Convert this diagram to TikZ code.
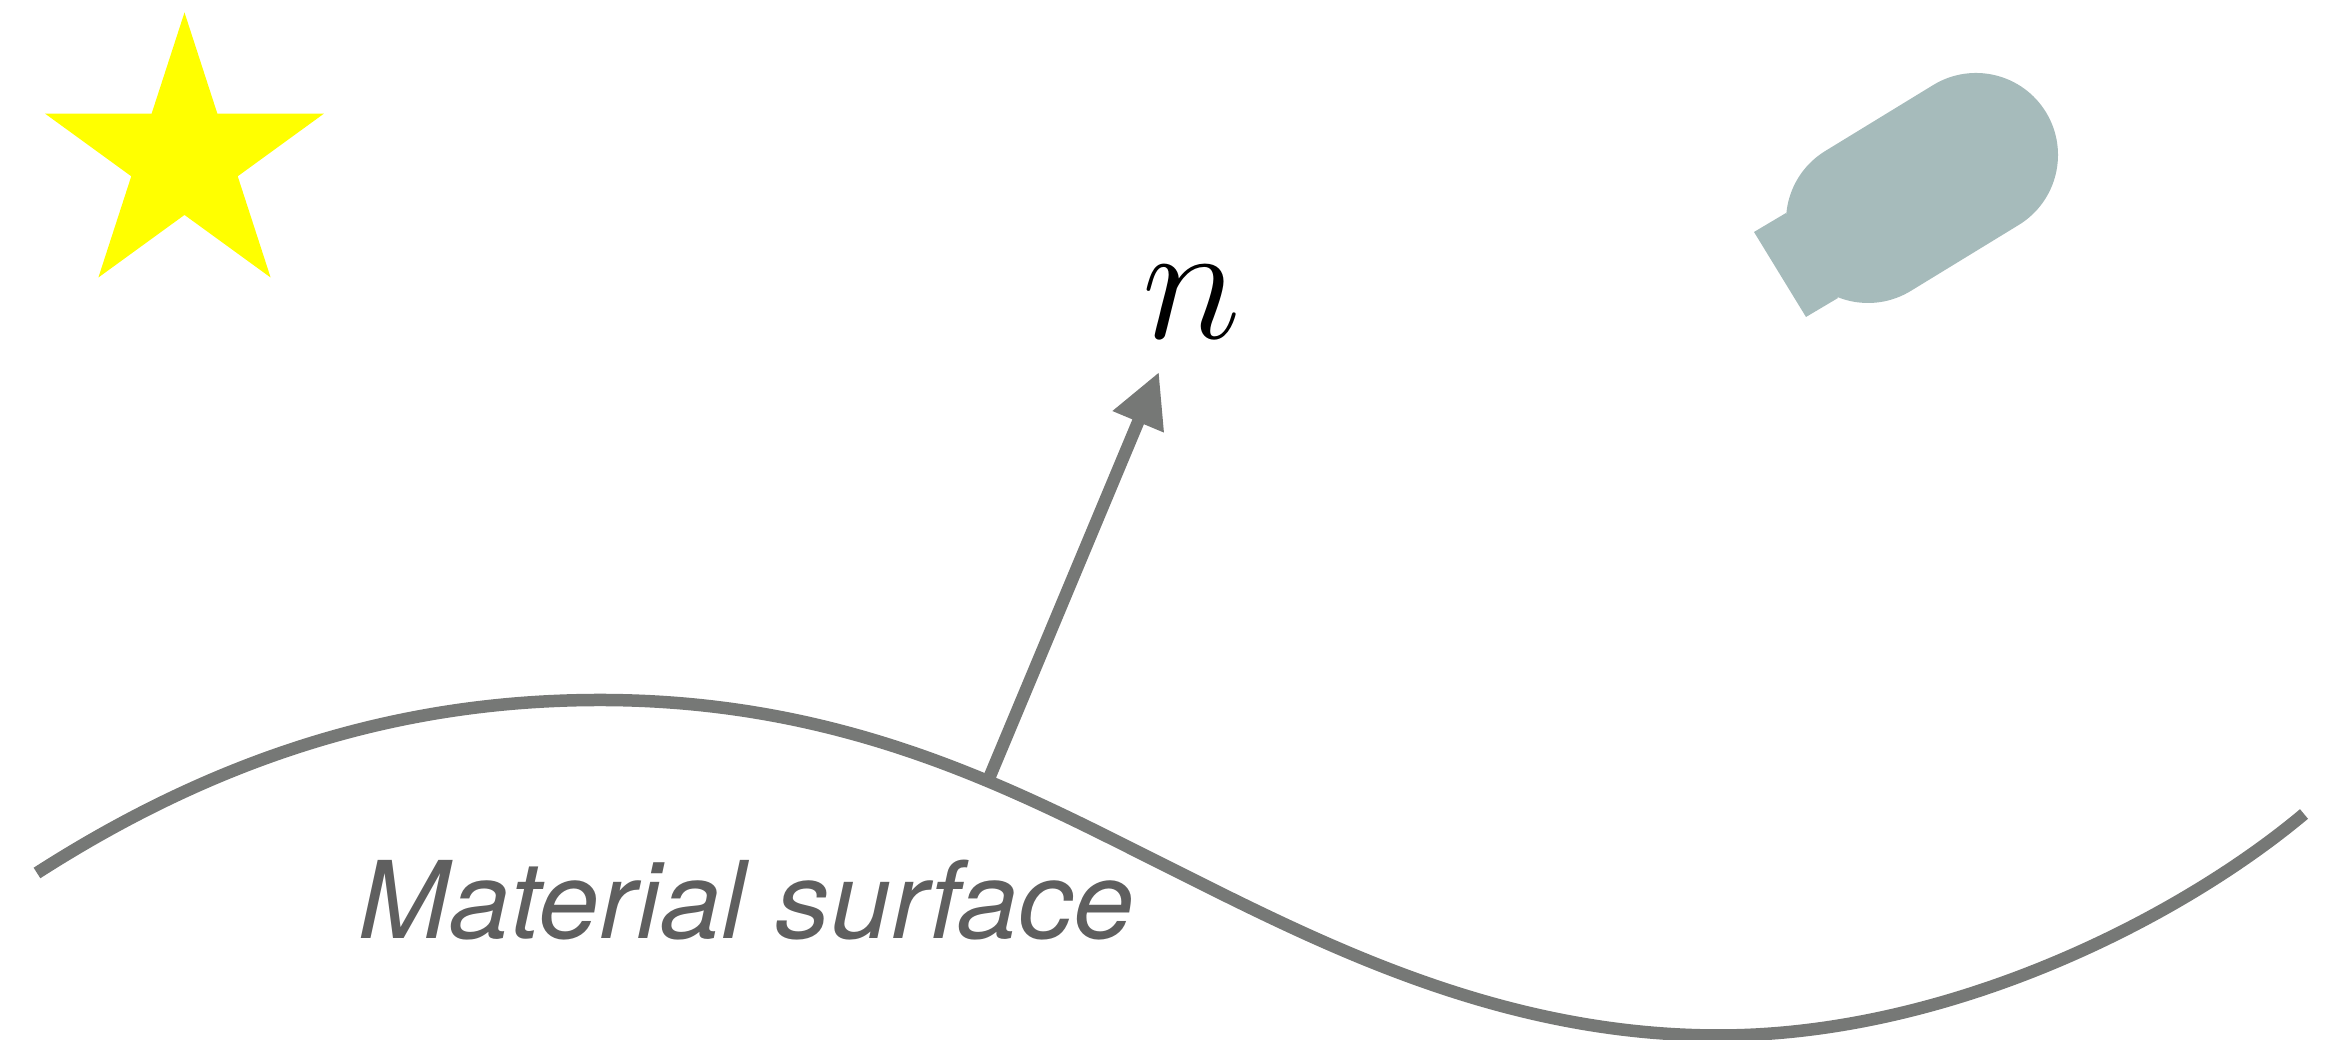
\documentclass[tikz,border=0pt]{standalone}
\usepackage{fontspec}
\newfontfamily\labelfont{TeX Gyre Heros}
\usetikzlibrary{arrows.meta,shapes.geometric}
\definecolor{surfacegray}{HTML}{767876}
\definecolor{labelgray}{HTML}{5F5F5F}
\definecolor{gunblue}{HTML}{A6BBBB}
\definecolor{staryellow}{RGB}{255,255,0}
\begin{document}
\begin{tikzpicture}[x=1cm,y=1cm]
\useasboundingbox (0,0) rectangle (23.37,10.4);
\tikzset{
  surface/.style={draw=surfacegray,line width=0.125cm},
  normal/.style={draw=surfacegray,line width=0.125cm,-{Triangle[length=0.54cm,width=0.52cm]}}
}
\node[star,star points=5,star point ratio=2.618,fill=staryellow,inner sep=0pt,minimum size=2.93cm] (source) at (1.845,8.81) {};
\coordinate (gunback) at (18.68,8.19);
\coordinate (gunfront) at (19.76,8.85);
\fill[gunblue] (17.54,8.08) -- (18.06,7.23) -- (18.38,7.42) -- (17.86,8.27) -- cycle;
\draw[gunblue,line width=1.64cm,line cap=round] (gunback) -- (gunfront);

\draw[surface] (0.37,1.67) .. controls (2.27,2.89) and (4.1,3.4) .. (6,3.4)
  .. controls (8.5,3.4) and (10.2,2.47) .. (11.7,1.72)
  .. controls (13.2,0.97) and (14.99,0.045) .. (17.19,0.045)
  .. controls (19.5,0.045) and (21.8,1.22) .. (23.04,2.26);
\node[font=\fontsize{30.5}{32}\labelfont\itshape,xscale=1.02,text=labelgray,anchor=base west,inner sep=0pt] (label) at (3.58,1.01) {Material surface};

\coordinate (foot) at (9.9,2.64);
\coordinate (tip) at (11.59,6.68);
\draw[normal] (foot) -- (tip);
\node[font=\Huge,scale=1.93,anchor=base west,inner sep=0pt] (normallabel) at (11.41,7.01) {$n$};
\end{tikzpicture}
\end{document}
